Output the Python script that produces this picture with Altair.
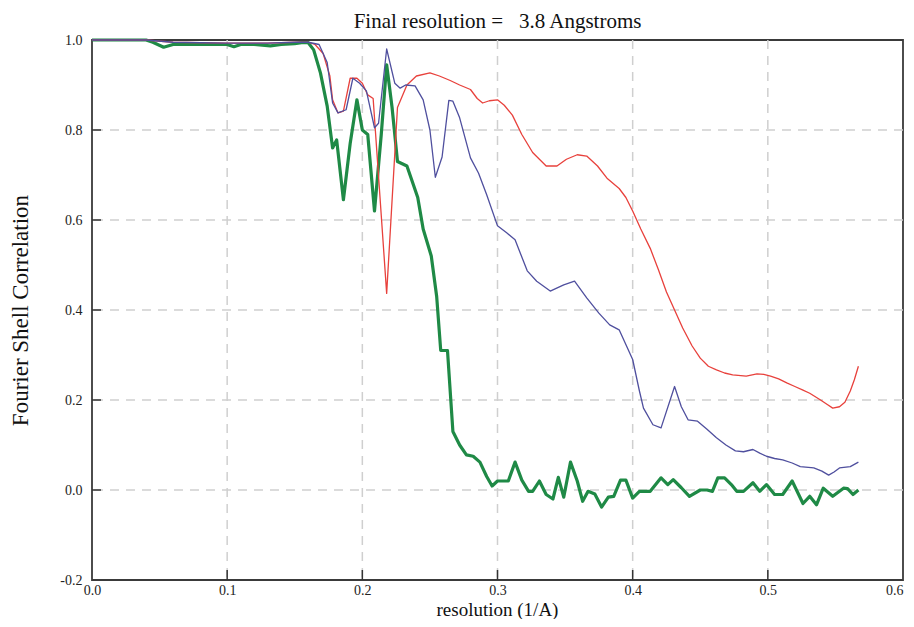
import altair as alt
import pandas as pd

# ---- data ----
green_x = [0.0, 0.01, 0.02, 0.03, 0.04, 0.045, 0.053, 0.06, 0.07, 0.08, 0.09, 0.1, 0.105, 0.11, 0.12,
           0.132, 0.14, 0.15, 0.155, 0.16, 0.164, 0.169, 0.174, 0.178, 0.181, 0.186, 0.191, 0.196, 0.2,
           0.204, 0.209, 0.214, 0.218, 0.222, 0.226, 0.233, 0.241, 0.245, 0.251, 0.255, 0.258, 0.263,
           0.267, 0.272, 0.277, 0.282, 0.287, 0.292, 0.296, 0.3, 0.308, 0.313, 0.318, 0.323, 0.326,
           0.331, 0.336, 0.341, 0.345, 0.349, 0.354, 0.359, 0.363, 0.367, 0.372, 0.377, 0.382, 0.386,
           0.391, 0.395, 0.4, 0.405, 0.413, 0.421, 0.426, 0.43, 0.436, 0.442, 0.45, 0.455, 0.459, 0.463,
           0.468, 0.473, 0.477, 0.482, 0.489, 0.494, 0.499, 0.505, 0.511, 0.518, 0.522, 0.526, 0.531,
           0.536, 0.541, 0.548, 0.556, 0.559, 0.563, 0.567]
green_y = [1.0, 1.0, 1.0, 1.0, 1.0, 0.995, 0.984, 0.99, 0.99, 0.99, 0.99, 0.99, 0.985, 0.99, 0.99,
           0.987, 0.99, 0.992, 0.994, 0.994, 0.978, 0.927, 0.853, 0.76, 0.778, 0.645, 0.77, 0.867, 0.80,
           0.79, 0.62, 0.79, 0.945, 0.85, 0.73, 0.72, 0.65, 0.58, 0.52, 0.43, 0.31, 0.31,
           0.13, 0.10, 0.078, 0.075, 0.062, 0.03, 0.009, 0.02, 0.02, 0.062, 0.022, -0.003, -0.003,
           0.02, -0.01, -0.02, 0.028, -0.016, 0.062, 0.02, -0.025, -0.003, -0.009, -0.038, -0.016, -0.014,
           0.022, 0.022, -0.018, -0.003, -0.003, 0.027, 0.012, 0.023, 0.005, -0.014, 0.0, 0.0, -0.003, 0.027,
           0.027, 0.012, -0.003, -0.003, 0.016, -0.003, 0.012, -0.01, -0.01, 0.02, -0.005, -0.03, -0.014,
           -0.033, 0.004, -0.014, 0.004, 0.003, -0.01, 0.0]

red_x = [0.0, 0.02, 0.04, 0.06, 0.1, 0.13, 0.15, 0.16, 0.165, 0.171, 0.176, 0.178, 0.182, 0.186, 0.191,
         0.196, 0.2, 0.204, 0.208, 0.218, 0.226, 0.233, 0.24, 0.25, 0.257, 0.265, 0.272, 0.28, 0.285,
         0.289, 0.294, 0.3, 0.305, 0.311, 0.318, 0.326, 0.336, 0.344, 0.351, 0.359, 0.366, 0.374, 0.381,
         0.39, 0.395, 0.4, 0.406, 0.413, 0.419, 0.425, 0.431, 0.437, 0.444, 0.45, 0.456, 0.462, 0.468,
         0.474, 0.484, 0.492, 0.497, 0.502, 0.508, 0.514, 0.52, 0.526, 0.531, 0.539, 0.544, 0.548, 0.553,
         0.557, 0.561, 0.564, 0.567]
red_y = [1.0, 1.0, 1.0, 0.995, 0.993, 0.993, 0.995, 0.995, 0.99, 0.97, 0.92, 0.867, 0.838, 0.842, 0.915,
         0.915, 0.904, 0.878, 0.87, 0.437, 0.85, 0.9, 0.92, 0.927, 0.92, 0.91, 0.9, 0.89, 0.87,
         0.86, 0.865, 0.867, 0.855, 0.833, 0.79, 0.75, 0.72, 0.72, 0.735, 0.745, 0.742, 0.72, 0.693,
         0.67, 0.65, 0.62, 0.58, 0.537, 0.49, 0.44, 0.40, 0.36, 0.32, 0.293, 0.275, 0.267, 0.26,
         0.256, 0.253, 0.258, 0.257, 0.253, 0.247, 0.238, 0.23, 0.222, 0.215, 0.2, 0.19, 0.182, 0.185,
         0.195, 0.22, 0.245, 0.275]

blue_x = [0.0, 0.02, 0.04, 0.06, 0.1, 0.13, 0.15, 0.16, 0.168, 0.174, 0.178, 0.182, 0.188, 0.193, 0.198,
          0.203, 0.209, 0.212, 0.218, 0.224, 0.228, 0.232, 0.239, 0.245, 0.25, 0.254, 0.259, 0.264,
          0.267, 0.272, 0.28, 0.286, 0.292, 0.3, 0.307, 0.313, 0.322, 0.329, 0.339, 0.349, 0.357, 0.366,
          0.375, 0.383, 0.39, 0.4, 0.405, 0.408, 0.415, 0.421, 0.431, 0.436, 0.441, 0.448, 0.455,
          0.462, 0.469, 0.476, 0.482, 0.489, 0.494, 0.499, 0.505, 0.511, 0.518, 0.524, 0.534, 0.54,
          0.545, 0.549, 0.553, 0.561, 0.567]
blue_y = [1.0, 1.0, 1.0, 0.995, 0.993, 0.993, 0.995, 0.995, 0.99, 0.95, 0.86, 0.838, 0.845, 0.915, 0.904,
          0.887, 0.805, 0.815, 0.98, 0.904, 0.893, 0.9, 0.898, 0.867, 0.80, 0.695, 0.74, 0.866,
          0.864, 0.827, 0.738, 0.704, 0.656, 0.587, 0.571, 0.556, 0.487, 0.464, 0.442, 0.456, 0.464, 0.427,
          0.393, 0.367, 0.356, 0.29, 0.22, 0.182, 0.145, 0.138, 0.23, 0.185, 0.156, 0.153, 0.135,
          0.116, 0.10, 0.087, 0.085, 0.09, 0.082, 0.075, 0.07, 0.067, 0.06, 0.052, 0.049, 0.042,
          0.033, 0.04, 0.049, 0.052, 0.062]

x_ticks = [0.0, 0.1, 0.2, 0.3, 0.4, 0.5, 0.6]
y_ticks = [-0.2, 0.0, 0.2, 0.4, 0.6, 0.8, 1.0]
x_inner = [0.1, 0.2, 0.3, 0.4, 0.5]
y_inner = [0.0, 0.2, 0.4, 0.6, 0.8]

FONT = "Liberation Serif"
label_expr = "datum.value < 0 ? '-' + format(-datum.value, '.1f') : format(datum.value, '.1f')"

xscale = alt.Scale(domain=[0, 0.6], nice=False, zero=False)
yscale = alt.Scale(domain=[-0.2, 1.0], nice=False, zero=False)

xaxis = alt.Axis(values=x_ticks, labelExpr=label_expr, grid=False, ticks=False, domain=False,
                 labelFlush=False, labelOverlap=False, labelPadding=3,
                 labelAlign={"condition": {"test": "datum.value > 0.55", "value": "right"}, "value": "center"},
                 title="resolution (1/A)", titleX=405, titleY=35, titleFontSize=19,
                 titleBaseline="alphabetic", titleAlign="center")
yaxis = alt.Axis(values=y_ticks, labelExpr=label_expr, grid=False, ticks=False, domain=False,
                 labelFlush=False, labelOverlap=False, labelPadding=10,
                 title="Fourier Shell Correlation", titleX=-72, titleY=270, titleFontSize=23,
                 titleAngle=270, titleBaseline="middle", titleAlign="center")

X = alt.X("x:Q", scale=xscale, axis=xaxis)
Y = alt.Y("y:Q", scale=yscale, axis=yaxis)

green_df = pd.DataFrame({"x": green_x, "y": green_y})
red_df = pd.DataFrame({"x": red_x, "y": red_y})
blue_df = pd.DataFrame({"x": blue_x, "y": blue_y})

grid_style = dict(color="#cfcfcf", strokeDash=[9, 7], strokeWidth=1.5)
vgrid = alt.Chart(pd.DataFrame({"x": x_inner})).mark_rule(**grid_style).encode(x=X)
hgrid = alt.Chart(pd.DataFrame({"y": y_inner})).mark_rule(**grid_style).encode(y=Y)

green = alt.Chart(green_df).mark_line(color="#1f8a46", strokeWidth=3.2, strokeJoin="round").encode(x=X, y=Y)
red = alt.Chart(red_df).mark_line(color="#e8413c", strokeWidth=1.3, strokeJoin="round").encode(x=X, y=Y)
blue = alt.Chart(blue_df).mark_line(color="#4f4f9e", strokeWidth=1.3, strokeJoin="round").encode(x=X, y=Y)

xt = alt.Chart(pd.DataFrame({"x": x_inner})).mark_rule(color="#333333", strokeWidth=1.5).encode(
    x=X, y=alt.value(540), y2=alt.value(530))
yt = alt.Chart(pd.DataFrame({"y": y_inner})).mark_rule(color="#333333", strokeWidth=1.5).encode(
    y=Y, x=alt.value(0), x2=alt.value(9))

chart = alt.layer(vgrid, hgrid, green, red, blue, xt, yt).properties(
    width=811, height=540,
    title=alt.TitleParams("Final resolution =\u00a0\u00a0 3.8 Angstroms", fontSize=21, font=FONT,
                          fontWeight="normal", color="#111111", offset=1, anchor="middle"),
    padding={"left": 84, "top": 32, "right": 3, "bottom": 39},
    autosize="none",
).configure_view(
    stroke="#3a3a3a", strokeWidth=1.8
).configure_axis(
    labelFont=FONT, labelFontSize=14, labelColor="#222222",
    titleFont=FONT, titleFontWeight="normal", titleColor="#111111",
)

chart.save("out.html", embed_options={"renderer": "svg", "actions": False})
